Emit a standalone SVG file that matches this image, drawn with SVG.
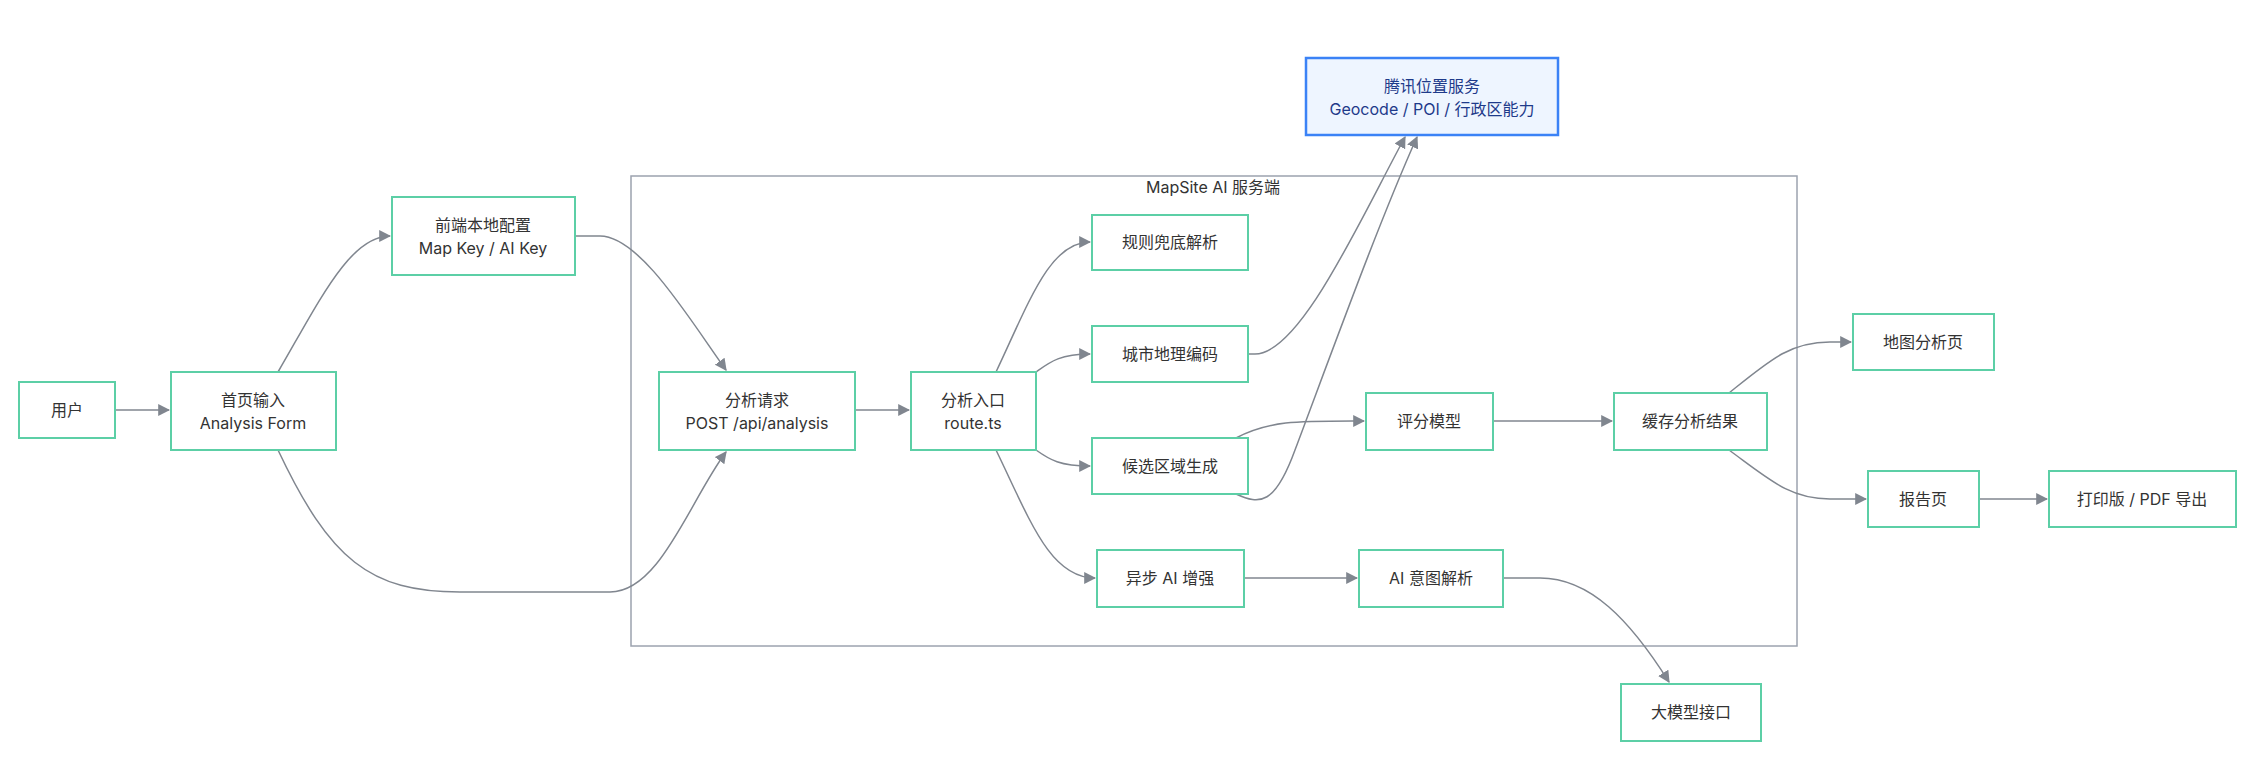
<svg xmlns="http://www.w3.org/2000/svg" width="2260" height="776" viewBox="0 0 2260 776">
<style>
.n rect{fill:#fff;stroke:#5ccfa6;stroke-width:2}
.n text,.lbl{font-family:"Inter","Noto Sans CJK SC",sans-serif;font-size:16px;fill:#333;text-anchor:middle}
.ext rect{fill:#eef5ff;stroke:#3b82f6;stroke-width:2.5}
.ext text{fill:#1e3a8a}
#edges path{fill:none;stroke:#80868f;stroke-width:1.5;marker-end:url(#ah)}
</style>
<defs><marker id="ah" viewBox="0 0 10 10" refX="9" refY="5" markerWidth="8" markerHeight="8" orient="auto"><path d="M0,0L10,5L0,10z" fill="#80868f"/></marker></defs>
<rect width="2260" height="776" fill="#fff"/>
<g id="cluster"><rect x="631" y="176" width="1166" height="470" fill="none" stroke="#9ca3af" stroke-width="1.5"/><text class="lbl" x="1213" y="193">MapSite AI 服务端</text></g>
<g id="edges">
<path d="M115,410H169"/>
<path d="M278,372C320,300 350,236 390,236"/>
<path d="M278,450C330,560 370,592 460,592H610C660,592 690,500 726,452"/>
<path d="M575,236H600C640,236 690,320 726,370"/>
<path d="M855,410H909"/>
<path d="M996,372C1030,300 1050,242 1090,242"/>
<path d="M1036,372C1050,362 1060,354 1090,354"/>
<path d="M1036,450C1050,460 1060,466 1090,466"/>
<path d="M996,450C1030,520 1050,578 1095,578"/>
<path d="M1248,354H1255C1300,354 1360,220 1405,137"/>
<path d="M1236,494C1260,505 1275,505 1295,450C1340,330 1380,220 1417,137"/>
<path d="M1236,438C1270,420 1300,421 1364,421"/>
<path d="M1493,421H1612"/>
<path d="M1244,578H1357"/>
<path d="M1503,578H1540C1590,578 1630,620 1669,682"/>
<path d="M1729,393C1770,360 1790,342 1830,342H1851"/>
<path d="M1729,450C1770,480 1790,499 1830,499H1866"/>
<path d="M1979,499H2047"/>
</g>
<g id="user" class="n"><rect x="19" y="382" width="96" height="56"/><text x="67" y="416">用户</text></g>
<g id="home" class="n"><rect x="171" y="372" width="165" height="78"/><text x="253" y="406">首页输入</text><text x="253" y="429">Analysis Form</text></g>
<g id="config" class="n"><rect x="392" y="197" width="183" height="78"/><text x="483" y="231">前端本地配置</text><text x="483" y="254">Map Key / AI Key</text></g>
<g id="req" class="n"><rect x="659" y="372" width="196" height="78"/><text x="757" y="406">分析请求</text><text x="757" y="429">POST /api/analysis</text></g>
<g id="route" class="n"><rect x="911" y="372" width="125" height="78"/><text x="973" y="406">分析入口</text><text x="973" y="429">route.ts</text></g>
<g id="rule" class="n"><rect x="1092" y="215" width="156" height="55"/><text x="1170" y="248">规则兜底解析</text></g>
<g id="geo" class="n"><rect x="1092" y="326" width="156" height="56"/><text x="1170" y="360">城市地理编码</text></g>
<g id="cand" class="n"><rect x="1092" y="438" width="156" height="56"/><text x="1170" y="472">候选区域生成</text></g>
<g id="async" class="n"><rect x="1097" y="550" width="147" height="57"/><text x="1170" y="584">异步 AI 增强</text></g>
<g id="score" class="n"><rect x="1366" y="393" width="127" height="57"/><text x="1429" y="427">评分模型</text></g>
<g id="cache" class="n"><rect x="1614" y="393" width="153" height="57"/><text x="1690" y="427">缓存分析结果</text></g>
<g id="intent" class="n"><rect x="1359" y="550" width="144" height="57"/><text x="1431" y="584">AI 意图解析</text></g>
<g id="llm" class="n"><rect x="1621" y="684" width="140" height="57"/><text x="1691" y="718">大模型接口</text></g>
<g id="tencent" class="n ext"><rect x="1306" y="58" width="252" height="77"/><text x="1432" y="92">腾讯位置服务</text><text x="1432" y="115">Geocode / POI / 行政区能力</text></g>
<g id="map" class="n"><rect x="1853" y="314" width="141" height="56"/><text x="1923" y="348">地图分析页</text></g>
<g id="report" class="n"><rect x="1868" y="471" width="111" height="56"/><text x="1923" y="505">报告页</text></g>
<g id="print" class="n"><rect x="2049" y="471" width="187" height="56"/><text x="2142" y="505">打印版 / PDF 导出</text></g>
</svg>
